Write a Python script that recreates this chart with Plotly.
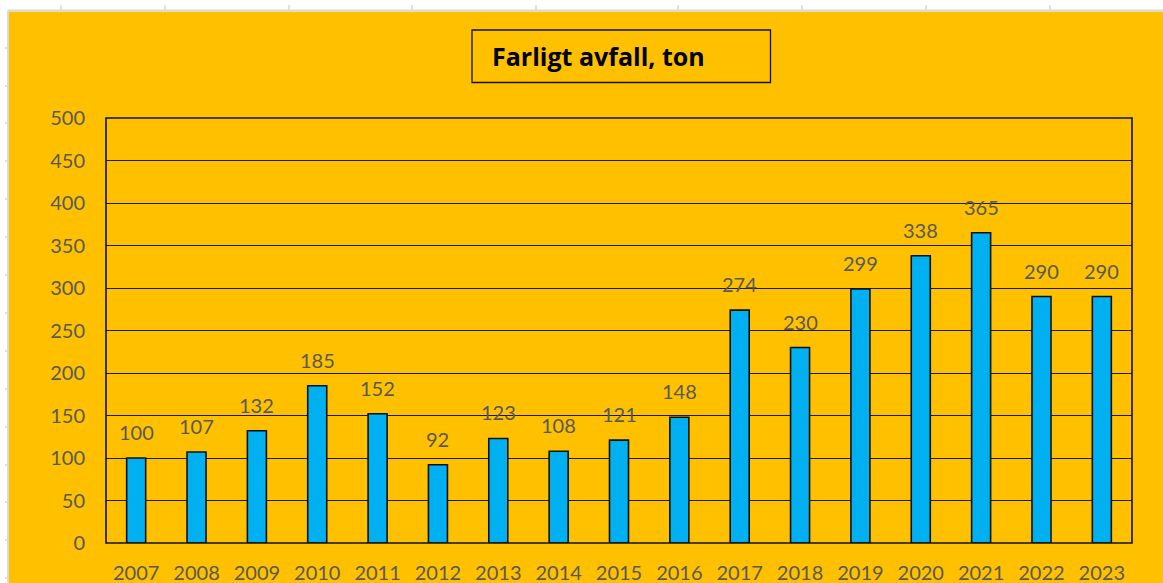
import plotly.graph_objects as go

years = ["2007", "2008", "2009", "2010", "2011", "2012", "2013", "2014", "2015",
         "2016", "2017", "2018", "2019", "2020", "2021", "2022", "2023"]
values = [100, 107, 132, 185, 152, 92, 123, 108, 121, 148, 274, 230, 299, 338, 365, 290, 290]
y_ticks = [0, 50, 100, 150, 200, 250, 300, 350, 400, 450, 500]
title_text = "Farligt avfall, ton"

W, H = 1163, 583
L, R, T, B = 106, 31, 118, 40
PW, PH = W - L - R, H - T - B


def px(x):
    return (x - L) / PW


def py(y):
    return (H - B - y) / PH


ORANGE = "#FFC000"
GRAY = "#595959"
FONT = "Lato, 'Open Sans', sans-serif"

fig = go.Figure()
fig.add_trace(go.Bar(
    x=years, y=values,
    marker=dict(color="#00B0F0", line=dict(color="#111111", width=1.6)),
    hoverinfo="x+y",
))

annotations = []
for i, v in enumerate(values):
    annotations.append(dict(
        x=i, y=v, xref="x", yref="y", text=str(v), showarrow=False,
        yanchor="bottom", yshift=12, font=dict(family=FONT, size=20, color=GRAY),
    ))

# title box
annotations.append(dict(
    x=px(490), y=py(56), xref="paper", yref="paper", text="<b>" + title_text + "</b>",
    showarrow=False, xanchor="left", yanchor="middle",
    font=dict(family="'Open Sans', sans-serif", size=25, color="#000000"),
))

shapes = []
# white spreadsheet strips
shapes.append(dict(type="rect", xref="paper", yref="paper", x0=px(-5), x1=px(W + 5),
                   y0=py(11.5), y1=py(-5), fillcolor="#ffffff", line=dict(width=0), layer="below"))
shapes.append(dict(type="rect", xref="paper", yref="paper", x0=px(-5), x1=px(8.5),
                   y0=py(H + 5), y1=py(-5), fillcolor="#ffffff", line=dict(width=0), layer="below"))
shapes.append(dict(type="line", xref="paper", yref="paper", x0=px(8), x1=px(W + 5),
                   y0=py(10.5), y1=py(10.5), line=dict(color="#d9d9d9", width=2), layer="below"))
shapes.append(dict(type="line", xref="paper", yref="paper", x0=px(8), x1=px(8),
                   y0=py(10.5), y1=py(H + 5), line=dict(color="#d9d9d9", width=2), layer="below"))
for tx in [61, 165, 289, 412, 536, 678, 802, 926, 1050]:
    shapes.append(dict(type="line", xref="paper", yref="paper", x0=px(tx), x1=px(tx),
                       y0=py(5), y1=py(10), line=dict(color="#d9d9d9", width=1.5), layer="below"))
for ty in [48, 86, 123, 161, 199, 237, 275, 313, 351, 389, 427, 465, 502, 540, 578]:
    shapes.append(dict(type="line", xref="paper", yref="paper", x0=px(5), x1=px(8),
                       y0=py(ty), y1=py(ty), line=dict(color="#d9d9d9", width=1.5), layer="below"))
# title border
shapes.append(dict(type="rect", xref="paper", yref="paper", x0=px(472), x1=px(770.5),
                   y0=py(82.5), y1=py(30), line=dict(color="#111111", width=1.3)))
# plot area border
shapes.append(dict(type="rect", xref="paper", yref="paper", x0=0, x1=1, y0=0, y1=1,
                   line=dict(color="#111111", width=1.6)))

fig.update_layout(
    width=W, height=H,
    margin=dict(l=L, r=R, t=T, b=B, autoexpand=False),
    paper_bgcolor=ORANGE, plot_bgcolor=ORANGE,
    bargap=0.685, showlegend=False,
    annotations=annotations, shapes=shapes,
    xaxis=dict(type="category", showgrid=False, showline=False, zeroline=False,
               ticks="", ticklabelstandoff=16, automargin=False,
               tickfont=dict(family=FONT, size=20, color=GRAY)),
    yaxis=dict(range=[0, 500], tickvals=y_ticks, showgrid=True, gridcolor="#1a1a1a",
               gridwidth=1.4, zeroline=False, showline=False, ticks="", automargin=False,
               ticklabelstandoff=20, tickfont=dict(family=FONT, size=20, color=GRAY)),
)

fig.write_html("out.html", config={"displayModeBar": False},
               post_script="document.body.style.margin='0';document.body.style.overflow='hidden';")
